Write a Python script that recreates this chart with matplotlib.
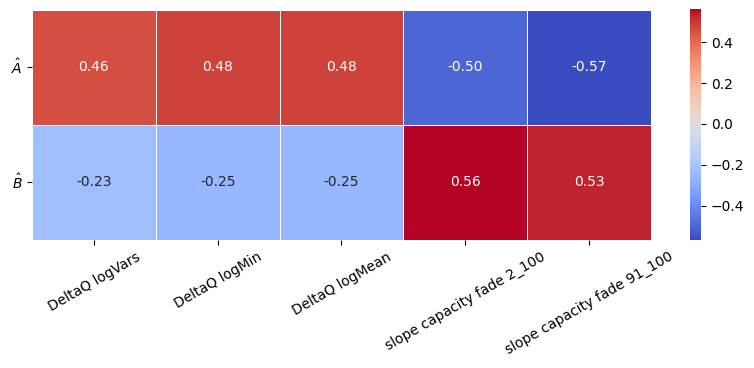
import numpy as np
import matplotlib
matplotlib.use("Agg")
import matplotlib.pyplot as plt
import seaborn as sns

features = ["DeltaQ logVars", "DeltaQ logMin", "DeltaQ logMean",
            "slope capacity fade 2_100", "slope capacity fade 91_100"]
params = [r"$\hat{A}$", r"$\hat{B}$"]
corr_A = [0.46, 0.48, 0.48, -0.50, -0.568]
corr_B = [-0.23, -0.25, -0.25, 0.564, 0.53]

corr = np.array([corr_A, corr_B])

fig = plt.figure(figsize=(7.54, 3.68), dpi=100)
ax = fig.add_axes([0.0424, 0.348, 0.821, 0.626])
cax = fig.add_axes([0.915, 0.348, 0.0146, 0.628])
sns.heatmap(corr, annot=True, fmt=".2f", cmap="coolwarm", linewidths=0.5,
            linecolor="white", xticklabels=features, yticklabels=params,
            ax=ax, cbar_ax=cax)
ax.set_xticklabels(features, rotation=30)
ax.set_yticklabels(params, rotation=0)
plt.savefig("out.png")
